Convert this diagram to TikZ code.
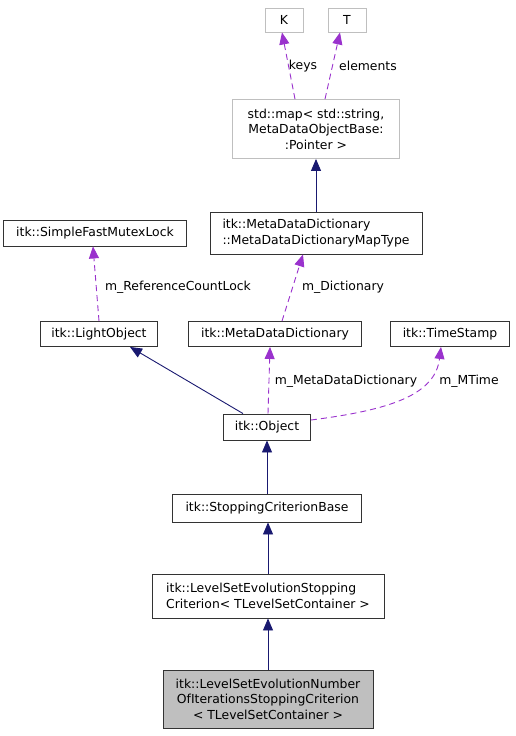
\documentclass[tikz,border=0pt]{standalone}
\usepackage{fontspec}
\setmainfont{DejaVu Sans}
\usepackage{tikz}
\usetikzlibrary{positioning}
\usetikzlibrary{arrows.meta}

\definecolor{herencia}{HTML}{191970}
\definecolor{uso}{HTML}{9A32CD}
\definecolor{gris}{HTML}{BFBFBF}

\tikzset{
  clase/.style={draw=black!80, rectangle, inner sep=2pt, line width=0.9pt},
  externa/.style={draw=gris, rectangle, inner sep=2pt, line width=0.9pt},
  etiqueta/.style={draw=none, inner sep=1pt},
  hereda/.style={-{Triangle[length=12pt,width=10pt]}, herencia, line width=0.9pt},
  usa/.style={-{Triangle[length=12pt,width=10pt]}, uso, line width=0.9pt, dash pattern=on 6pt off 4pt}
}

\begin{document}
\begin{tikzpicture}[x=1pt, y=-1pt, every node/.style={font=\fontsize{12.4}{15.5}\selectfont}]
            \useasboundingbox (0,0) rectangle (515,736);
            % Nodos
            \node[externa, minimum width=38pt, minimum height=24pt] (K) at (284,20) {K};
            \node[externa, minimum width=38pt, minimum height=24pt] (T) at (347,20) {T};
            \node[externa, minimum width=167pt, minimum height=59pt, align=center] (map) at (316,129) {std::map< std::string,\\ MetaDataObjectBase:\\:Pointer >};
            \node[clase, minimum width=212pt, minimum height=42pt, align=left] (maptype) at (316,233) {itk::MetaDataDictionary\\::MetaDataDictionaryMapType};
            \node[clase, minimum width=183pt, minimum height=26pt] (mutex) at (95,233) {itk::SimpleFastMutexLock};
            \node[clase, minimum width=117pt, minimum height=25pt] (light) at (99,334) {itk::LightObject};
            \node[clase, minimum width=173pt, minimum height=25pt] (mdd) at (275,334) {itk::MetaDataDictionary};
            \node[clase, minimum width=119pt, minimum height=25pt] (ts) at (450,334) {itk::TimeStamp};
            \node[clase, minimum width=87pt, minimum height=26pt] (obj) at (267,427) {itk::Object};
            \node[clase, minimum width=189pt, minimum height=28pt] (base) at (267,508) {itk::StoppingCriterionBase};
            \node[clase, minimum width=232pt, minimum height=44pt, align=left] (stop) at (268,596) {itk::LevelSetEvolutionStopping\\Criterion< TLevelSetContainer >};
            \node[clase, fill=gris, minimum width=210pt, minimum height=58pt, align=center] (num) at (268,699) {itk::LevelSetEvolutionNumber\\OfIterationsStoppingCriterion\\< TLevelSetContainer >};

            % Aristas
            \draw[usa] ([xshift=-21pt]map.north) -- ([xshift=-2pt]K.south);
            \draw[usa] ([xshift=9pt]map.north) -- ([xshift=-7pt]T.south);
            \draw[hereda] (maptype.north) -- (map.south);
            \draw[usa] (light.north) -- ([xshift=-2pt]mutex.south);
            \draw[usa] ([xshift=7pt]mdd.north) -- ([xshift=-13pt]maptype.south);
            \draw[hereda] ([xshift=-24pt]obj.north) -- ([xshift=31pt]light.south);
            \draw[usa] ([xshift=1pt]obj.north) -- ([xshift=-5pt]mdd.south);
            \draw[usa] ([yshift=7pt]obj.east) .. controls (390,410) and (435,395) .. ([xshift=-9pt]ts.south);
            \draw[hereda] (base.north) -- (obj.south);
            \draw[hereda] (stop.north) -- (stop.north |- base.south);
            \draw[hereda] (num.north) -- (stop.south);

            % Etiquetas
            \node[etiqueta] (lkeys) at (303,66) {keys};
            \node[etiqueta] (lelem) at (368,66) {elements};
            \node[etiqueta] (llock) at (178,287) {m\_ReferenceCountLock};
            \node[etiqueta] (ldict) at (343,287) {m\_Dictionary};
            \node[etiqueta] (lmdd) at (346,381) {m\_MetaDataDictionary};
            \node[etiqueta] (lmtime) at (469,381) {m\_MTime};
          \end{tikzpicture}
\end{document}
